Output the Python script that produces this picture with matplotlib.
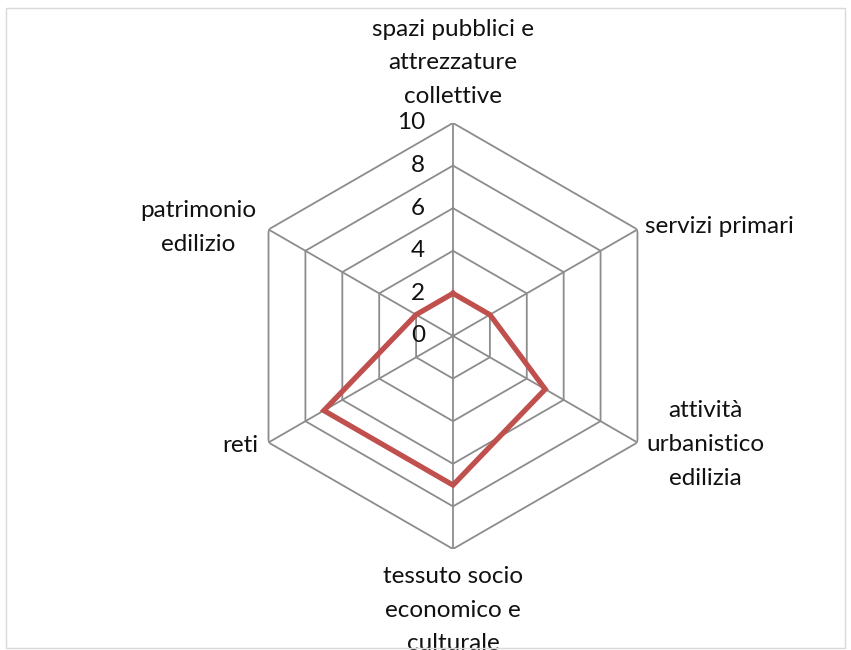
import numpy as np
import matplotlib
matplotlib.use("Agg")
import matplotlib.pyplot as plt
from matplotlib.patches import Rectangle

# categories (clockwise from top) and scores
categories = ['spazi pubblici e\nattrezzature\ncollettive', 'servizi primari',
              'attività\nurbanistico\nedilizia', 'tessuto socio\neconomico e\nculturale',
              'reti', 'patrimonio\nedilizio']
values = [2, 2, 5, 7, 7, 2]
ticks = [0, 2, 4, 6, 8, 10]

plt.rcParams['font.family'] = ['Lato', 'DejaVu Sans']

fig = plt.figure(figsize=(8.51, 6.5), dpi=100)
ax = fig.add_axes([0.2820, 0.1554, 0.5006, 0.6554], projection='polar')
ax.set_theta_zero_location('N')
ax.set_theta_direction(-1)
ax.set_ylim(0, 10)
ax.grid(False)
ax.spines['polar'].set_visible(False)
ax.set_xticks([])
ax.set_yticks([])
ax.patch.set_visible(False)

n = len(categories)
angles = np.linspace(0, 2 * np.pi, n, endpoint=False)
closed = np.append(angles, angles[0])

grid_col = '#8c8c8c'
# hexagonal rings
for t in ticks[1:]:
    ax.plot(closed, [t] * (n + 1), color=grid_col, lw=1.3, zorder=1)
# spokes
for a in angles:
    ax.plot([a, a], [0, ticks[-1]], color=grid_col, lw=1.3, zorder=1)

# data line
ax.plot(closed, values + values[:1], color='#C0504D', lw=3.8, zorder=3,
        solid_joinstyle='miter')

fs = 17.5
txt_col = '#111111'

# radial tick labels
for t in ticks:
    ax.annotate(str(t), xy=(0, t), xytext=(-28, 0), textcoords='offset pixels',
                ha='right', va='center', fontsize=fs, color=txt_col)

# category labels
offsets = [(0, 16, 'center', 'bottom'), (8, 3, 'left', 'center'),
           (68, -2, 'center', 'center'), (0, -17, 'center', 'top'),
           (-10, -3, 'right', 'center'), (-70, 2, 'center', 'center')]
for a, lab, (dx, dy, ha, va) in zip(angles, categories, offsets):
    ax.annotate(lab, xy=(a, 10), xytext=(dx, dy), textcoords='offset pixels',
                ha=ha, va=va, multialignment='center', fontsize=fs,
                linespacing=1.74, color=txt_col, annotation_clip=False)

# outer frame
fig.add_artist(Rectangle((6 / 851, 2 / 650), 839 / 851, 640 / 650,
                         transform=fig.transFigure, fill=False,
                         edgecolor='#d9d9d9', lw=1, zorder=10))

fig.savefig('out.png', dpi=100)
